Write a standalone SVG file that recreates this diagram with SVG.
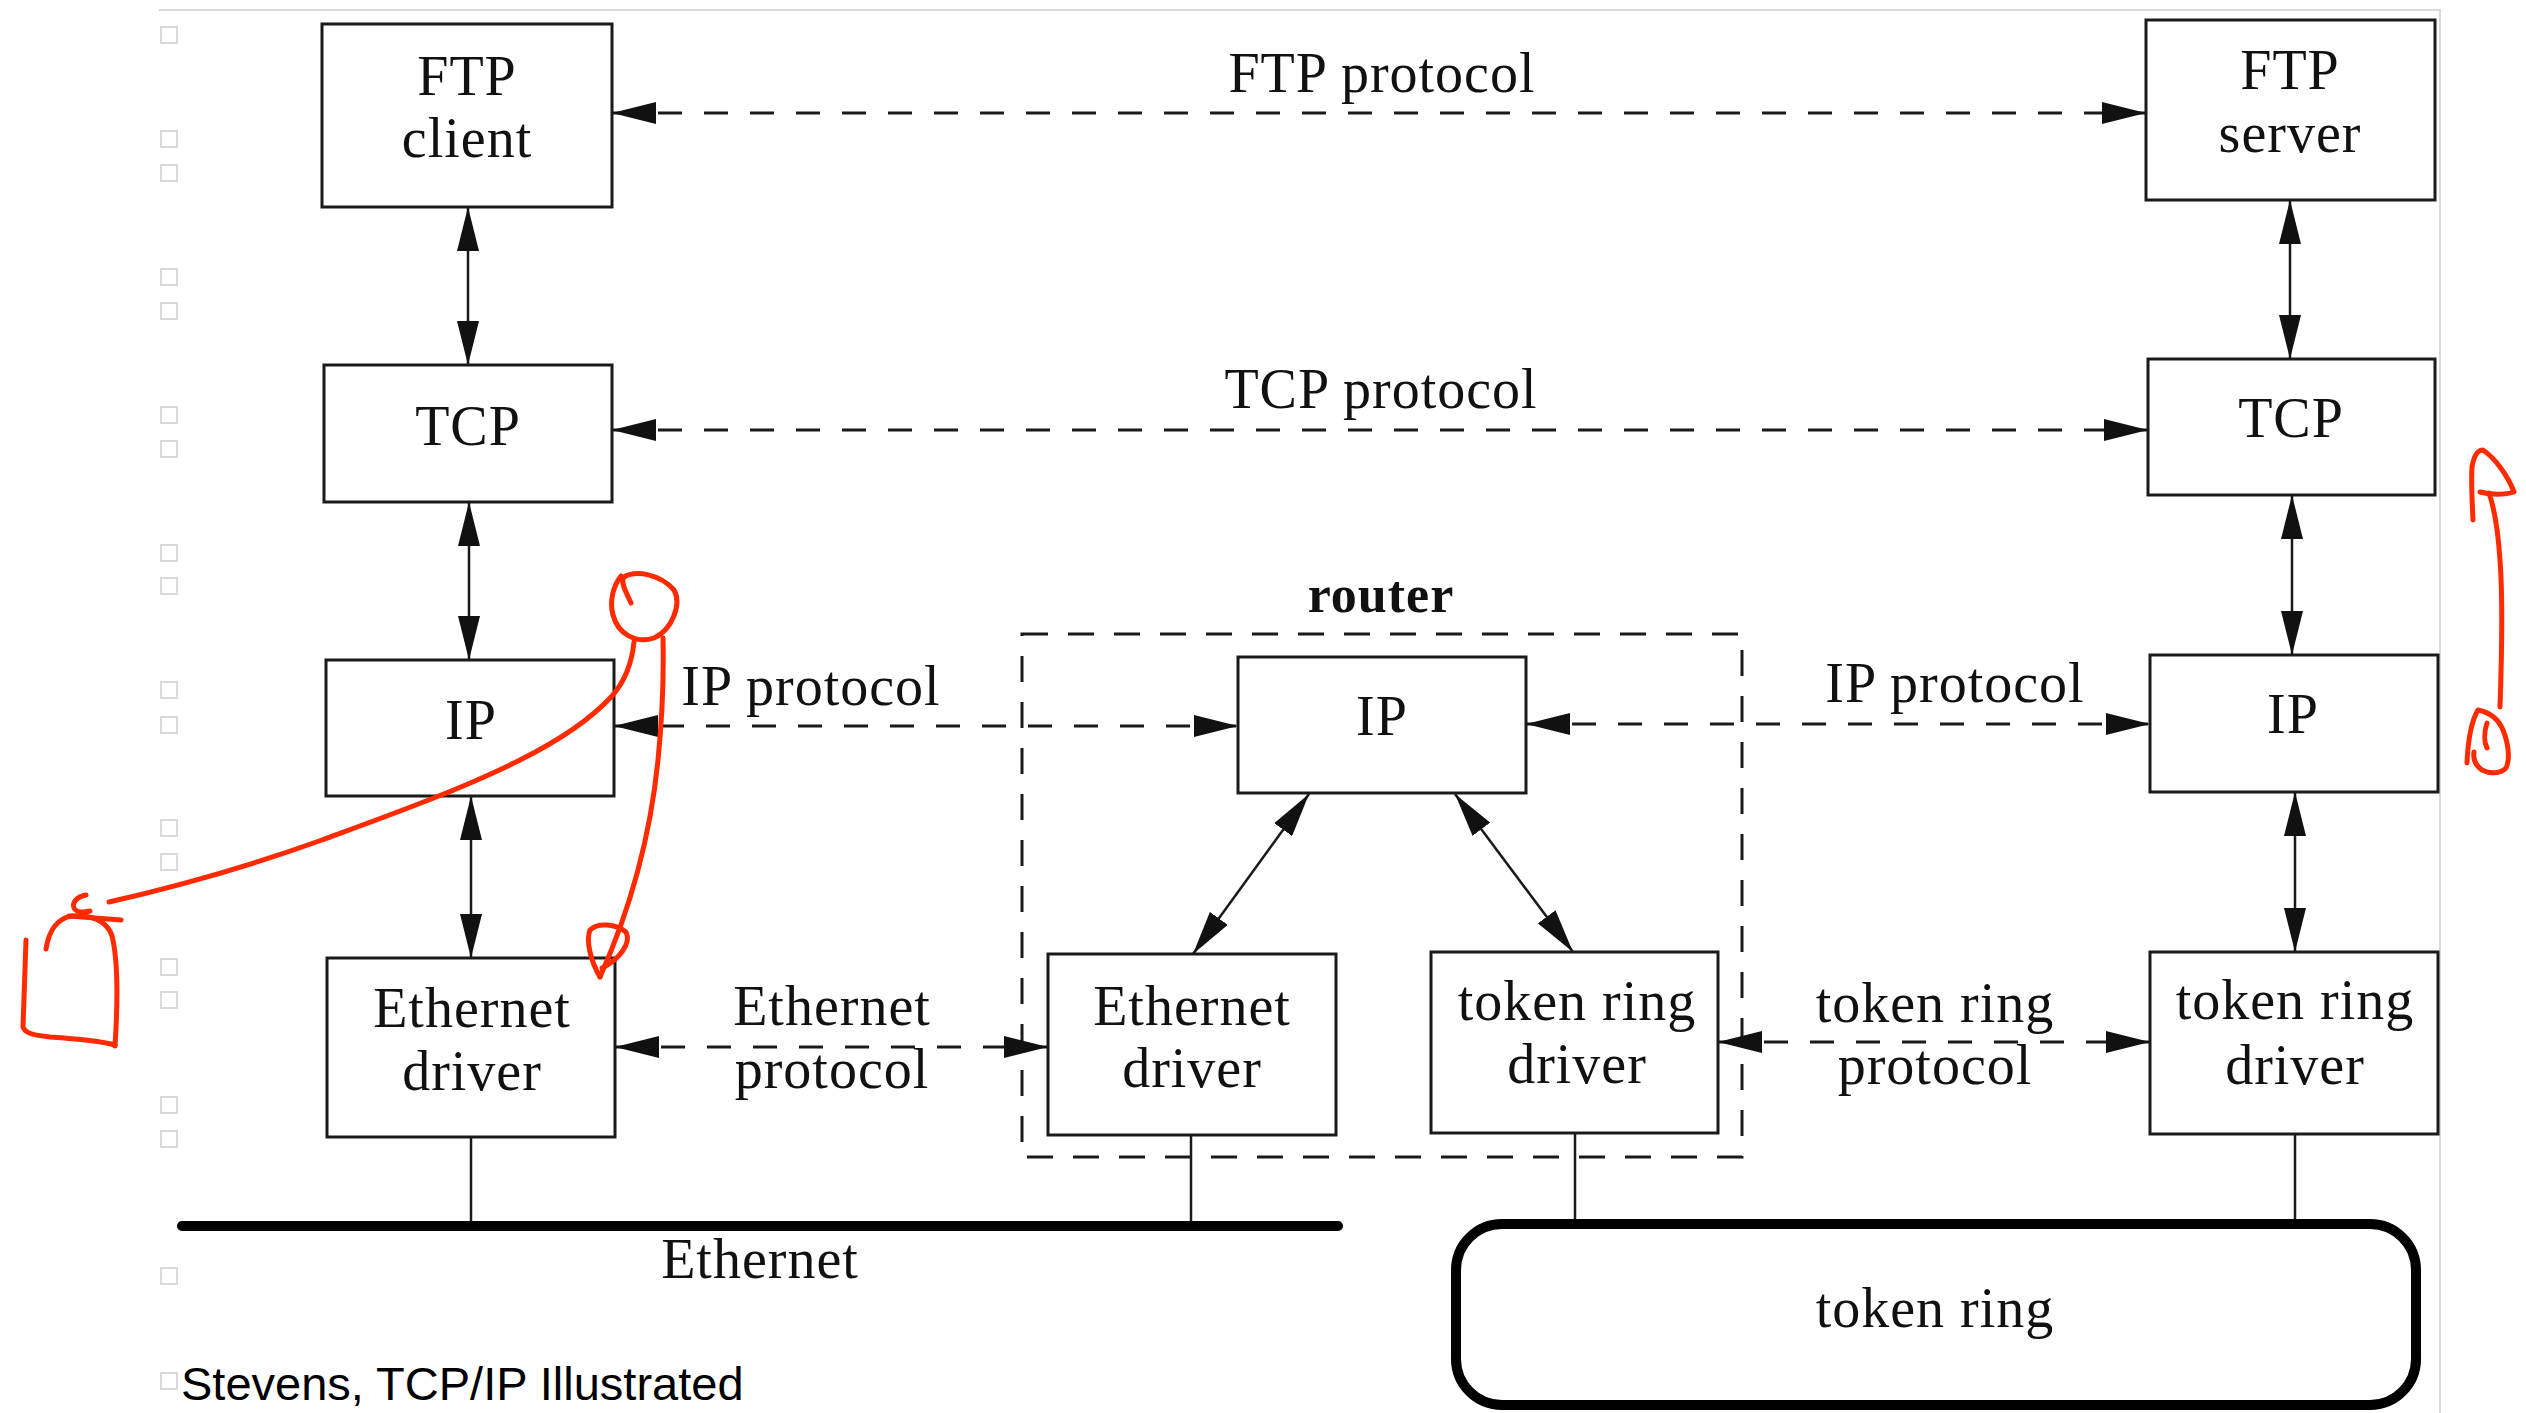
<svg xmlns="http://www.w3.org/2000/svg" width="2526" height="1413" viewBox="0 0 2526 1413">
  <style>
    .box { fill: #fff; stroke: #1a1a1a; stroke-width: 3; }
    .t { font-family: "Liberation Serif", "Times New Roman", serif; font-size: 56px; letter-spacing: 1px; text-anchor: middle; fill: #111; }
    .tb { font-family: "Liberation Serif", "Times New Roman", serif; font-size: 52px; font-weight: bold; letter-spacing: 1px; text-anchor: middle; fill: #111; }
    .cap { font-family: "Liberation Sans", Arial, sans-serif; font-size: 47px; fill: #000; }
    .solid { fill: none; stroke: #1a1a1a; stroke-width: 2.5; marker-start: url(#head); marker-end: url(#head); }
    .dash { fill: none; stroke: #1a1a1a; stroke-width: 3; stroke-dasharray: 24 22; marker-start: url(#head); marker-end: url(#head); }
    .drop { fill: none; stroke: #1a1a1a; stroke-width: 2.5; }
    .page { fill: none; stroke: #dadada; stroke-width: 2; }
    .ink { fill: none; stroke: #ff2a00; stroke-width: 5; stroke-linecap: round; stroke-linejoin: round; }
  </style>
  <defs>
    <marker id="head" markerUnits="userSpaceOnUse" markerWidth="44" markerHeight="22" refX="44" refY="11" orient="auto-start-reverse" viewBox="0 0 44 22">
      <path d="M0,0 L44,11 L0,22 Z" fill="#111"/>
    </marker>
  </defs>

  <rect width="2526" height="1413" fill="#fff"/>

  <!-- page edges and margin marks -->
  <g id="page">
    <path class="page" d="M159,10 H2440 V1413"/>
    <g>
      <rect class="page" x="161" y="27" width="16" height="16"/>
      <rect class="page" x="161" y="131" width="16" height="16"/>
      <rect class="page" x="161" y="165" width="16" height="16"/>
      <rect class="page" x="161" y="269" width="16" height="16"/>
      <rect class="page" x="161" y="303" width="16" height="16"/>
      <rect class="page" x="161" y="407" width="16" height="16"/>
      <rect class="page" x="161" y="441" width="16" height="16"/>
      <rect class="page" x="161" y="545" width="16" height="16"/>
      <rect class="page" x="161" y="578" width="16" height="16"/>
      <rect class="page" x="161" y="682" width="16" height="16"/>
      <rect class="page" x="161" y="717" width="16" height="16"/>
      <rect class="page" x="161" y="820" width="16" height="16"/>
      <rect class="page" x="161" y="854" width="16" height="16"/>
      <rect class="page" x="161" y="959" width="16" height="16"/>
      <rect class="page" x="161" y="992" width="16" height="16"/>
      <rect class="page" x="161" y="1097" width="16" height="16"/>
      <rect class="page" x="161" y="1131" width="16" height="16"/>
      <rect class="page" x="161" y="1268" width="16" height="16"/>
      <rect class="page" x="161" y="1373" width="16" height="16"/>
    </g>
  </g>

  <!-- router enclosure -->
  <g id="router">
    <rect x="1022" y="634" width="720" height="523" fill="none" stroke="#1a1a1a" stroke-width="3" stroke-dasharray="26 20"/>
    <text class="tb" x="1381" y="612">router</text>
  </g>

  <!-- connectors -->
  <g id="connectors">
    <!-- vertical stacks -->
    <line class="solid" x1="468" y1="207" x2="468" y2="365"/>
    <line class="solid" x1="469" y1="502" x2="469" y2="660"/>
    <line class="solid" x1="471" y1="796" x2="471" y2="958"/>
    <line class="solid" x1="2290" y1="200" x2="2290" y2="359"/>
    <line class="solid" x1="2292" y1="495" x2="2292" y2="655"/>
    <line class="solid" x1="2295" y1="792" x2="2295" y2="952"/>
    <!-- inside the router -->
    <line class="solid" x1="1309" y1="794" x2="1193" y2="954"/>
    <line class="solid" x1="1455" y1="794" x2="1573" y2="952"/>
    <!-- peer protocols -->
    <line class="dash" x1="612" y1="113" x2="2146" y2="113"/>
    <line class="dash" x1="612" y1="430" x2="2148" y2="430"/>
    <line class="dash" x1="614" y1="726" x2="1238" y2="726"/>
    <line class="dash" x1="1526" y1="724" x2="2150" y2="724"/>
    <line class="dash" x1="615" y1="1047" x2="1048" y2="1047"/>
    <line class="dash" x1="1718" y1="1042" x2="2150" y2="1042"/>
    <!-- drops to the networks -->
    <line class="drop" x1="471" y1="1137" x2="471" y2="1226"/>
    <line class="drop" x1="1191" y1="1135" x2="1191" y2="1226"/>
    <line class="drop" x1="1575" y1="1133" x2="1575" y2="1224"/>
    <line class="drop" x1="2295" y1="1134" x2="2295" y2="1224"/>
  </g>

  <!-- protocol labels -->
  <g id="labels">
    <text class="t" x="1382" y="92">FTP protocol</text>
    <text class="t" x="1381" y="408">TCP protocol</text>
    <text class="t" x="811" y="705">IP protocol</text>
    <text class="t" x="1955" y="702">IP protocol</text>
    <text class="t" x="832" y="1025">Ethernet</text>
    <text class="t" x="832" y="1088">protocol</text>
    <text class="t" x="1935" y="1022">token ring</text>
    <text class="t" x="1935" y="1084">protocol</text>
  </g>

  <!-- hosts and router layers -->
  <g id="ftp-client">
    <rect class="box" x="322" y="24" width="290" height="183"/>
    <text class="t" x="467" y="95">FTP</text>
    <text class="t" x="467" y="157">client</text>
  </g>
  <g id="tcp-left">
    <rect class="box" x="324" y="365" width="288" height="137"/>
    <text class="t" x="468" y="445">TCP</text>
  </g>
  <g id="ip-left">
    <rect class="box" x="326" y="660" width="288" height="136"/>
    <text class="t" x="471" y="739">IP</text>
  </g>
  <g id="eth-driver-left">
    <rect class="box" x="327" y="958" width="288" height="179"/>
    <text class="t" x="472" y="1027">Ethernet</text>
    <text class="t" x="472" y="1090">driver</text>
  </g>
  <g id="ip-router">
    <rect class="box" x="1238" y="657" width="288" height="136"/>
    <text class="t" x="1382" y="735">IP</text>
  </g>
  <g id="eth-driver-router">
    <rect class="box" x="1048" y="954" width="288" height="181"/>
    <text class="t" x="1192" y="1025">Ethernet</text>
    <text class="t" x="1192" y="1087">driver</text>
  </g>
  <g id="tr-driver-router">
    <rect class="box" x="1431" y="952" width="287" height="181"/>
    <text class="t" x="1577" y="1020">token ring</text>
    <text class="t" x="1577" y="1083">driver</text>
  </g>
  <g id="ftp-server">
    <rect class="box" x="2146" y="20" width="289" height="180"/>
    <text class="t" x="2290" y="89">FTP</text>
    <text class="t" x="2290" y="152">server</text>
  </g>
  <g id="tcp-right">
    <rect class="box" x="2148" y="359" width="287" height="136"/>
    <text class="t" x="2291" y="437">TCP</text>
  </g>
  <g id="ip-right">
    <rect class="box" x="2150" y="655" width="288" height="137"/>
    <text class="t" x="2293" y="733">IP</text>
  </g>
  <g id="tr-driver-right">
    <rect class="box" x="2150" y="952" width="288" height="182"/>
    <text class="t" x="2295" y="1019">token ring</text>
    <text class="t" x="2295" y="1084">driver</text>
  </g>

  <!-- networks -->
  <g id="ethernet">
    <line x1="182" y1="1226" x2="1338" y2="1226" stroke="#000" stroke-width="10" stroke-linecap="round"/>
    <text class="t" x="760" y="1278">Ethernet</text>
  </g>
  <g id="token-ring">
    <rect x="1456" y="1224" width="960" height="181" rx="46" ry="46" fill="none" stroke="#000" stroke-width="10"/>
    <text class="t" x="1935" y="1327">token ring</text>
  </g>

  <text class="cap" x="181" y="1400">Stevens, TCP/IP Illustrated</text>

  <!-- hand-drawn pen marks -->
  <g id="pen">
    <path class="ink" d="M631,603 C626,592 620,582 624,577 C636,570 660,574 674,590 C682,604 672,630 654,638 C636,644 618,634 613,615 C609,600 614,585 621,576"/>
    <path class="ink" d="M634,642 C632,662 626,680 612,696 C590,720 560,740 520,760 C460,790 390,815 322,840 C250,866 170,888 109,902"/>
    <path class="ink" d="M86,895 C76,897 72,903 74,908 C76,912 82,913 90,911"/>
    <path class="ink" d="M46,949 C49,930 58,918 72,916 C92,914 108,922 112,936 C118,960 118,1000 115,1046"/>
    <path class="ink" d="M26,940 C25,970 24,1000 23,1027 C25,1033 32,1035 50,1037 C80,1039 100,1041 115,1045"/>
    <path class="ink" d="M69,916 L121,920"/>
    <path class="ink" d="M663,638 C664,680 662,720 658,760 C650,840 630,910 600,977"/>
    <path class="ink" d="M600,977 C590,960 586,940 590,930 C598,922 616,924 626,932 C632,944 618,960 602,968"/>
    <path class="ink" d="M2500,707 C2502,650 2503,600 2500,560 C2498,530 2495,510 2489,493"/>
    <path class="ink" d="M2473,520 C2472,500 2471,480 2472,467 C2474,455 2478,450 2483,450 C2495,458 2508,476 2514,492 C2505,495 2490,495 2480,492" stroke-width="6"/>
    <path class="ink" d="M2467,763 C2468,740 2472,720 2478,710 C2488,712 2498,718 2503,730 C2509,745 2510,760 2506,768 C2500,774 2490,774 2482,770 C2475,765 2473,758 2474,752"/>
    <path class="ink" d="M2487,723 C2484,732 2484,742 2487,748"/>
  </g>
</svg>
